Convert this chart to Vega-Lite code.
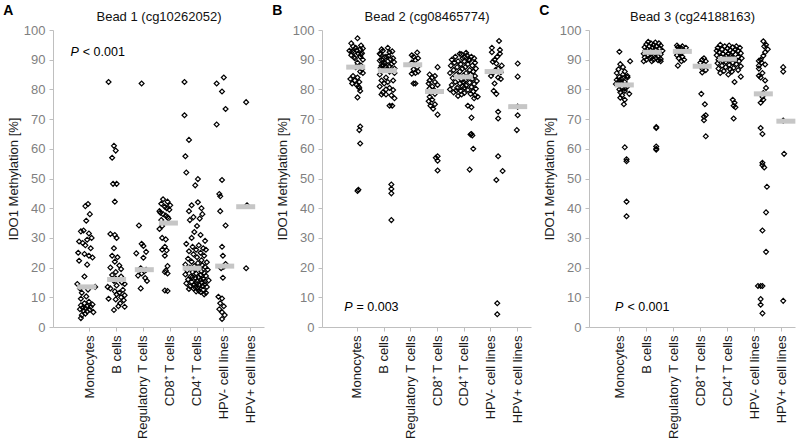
{
"$schema":"https://vega.github.io/schema/vega-lite/v6.json",
"padding":{"left":3,"top":4,"right":0,"bottom":0},
"config":{"font":"Liberation Sans","view":{"stroke":null},
"axisY":{"values":[0,10,20,30,40,50,60,70,80,90,100],"grid":false,"labelColor":"#7f7f7f","labelFontSize":13,"tickSize":4,"tickColor":"#bfbfbf","domainColor":"#bfbfbf","labelPadding":4,"titleFontSize":13,"titleFontWeight":"normal","titleColor":"#1a1a1a","titlePadding":3},
"axisX":{"grid":false}},
"spacing":8,
"datasets":{
"med":[
{"p":1,"c":1,"v":13.5,"j":-0.35},{"p":1,"c":2,"v":16,"j":0},{"p":1,"c":3,"v":19.3,"j":0.1},{"p":1,"c":4,"v":35,"j":-0.2},{"p":1,"c":5,"v":19.8,"j":-0.55},{"p":1,"c":6,"v":20.5,"j":0.1},{"p":1,"c":7,"v":40.5,"j":-0.55},
{"p":2,"c":1,"v":87.5,"j":-0.2},{"p":2,"c":2,"v":86.3,"j":0.35},{"p":2,"c":3,"v":88.3,"j":0.2},{"p":2,"c":4,"v":79.3,"j":-0.35},{"p":2,"c":5,"v":84.2,"j":-0.1},{"p":2,"c":6,"v":86,"j":0.35},{"p":2,"c":7,"v":74.2,"j":0},
{"p":3,"c":1,"v":81.5,"j":0.55},{"p":3,"c":2,"v":92.5,"j":0.65},{"p":3,"c":3,"v":92.8,"j":1.0},{"p":3,"c":4,"v":87.8,"j":0.2},{"p":3,"c":5,"v":90.2,"j":0},{"p":3,"c":6,"v":78.5,"j":1.0},{"p":3,"c":7,"v":69.3,"j":0.5}],
"ann":[
{"p":1,"t1":"P","t2":"< 0.001","v":92.5,"j":-1.23},
{"p":2,"t1":"P","t2":"= 0.003","v":6.7,"j":-0.56},
{"p":3,"t1":"P","t2":"< 0.001","v":6.7,"j":0.45}],
"pts":[
{"p":1,"c":1,"v":41.4,"j":-0.2},{"p":1,"c":1,"v":40.7,"j":-0.5},{"p":1,"c":1,"v":38,"j":0},{"p":1,"c":1,"v":35.8,"j":-0.4},{"p":1,"c":1,"v":32.5,"j":-0.7},{"p":1,"c":1,"v":32.2,"j":-1},{"p":1,"c":1,"v":31.5,"j":-0.1},{"p":1,"c":1,"v":30,"j":0.2},{"p":1,"c":1,"v":29.4,"j":-0.3},{"p":1,"c":1,"v":28.8,"j":-1.2},{"p":1,"c":1,"v":28.3,"j":-0.8},{"p":1,"c":1,"v":27.5,"j":-0.5},{"p":1,"c":1,"v":26.5,"j":0.1},{"p":1,"c":1,"v":25,"j":-1.3},{"p":1,"c":1,"v":24.6,"j":-0.6},{"p":1,"c":1,"v":24,"j":-0.1},{"p":1,"c":1,"v":23.4,"j":0.3},{"p":1,"c":1,"v":22.3,"j":-1.2},{"p":1,"c":1,"v":21,"j":-0.3},{"p":1,"c":1,"v":17,"j":-0.6},{"p":1,"c":1,"v":14.5,"j":-1.4},{"p":1,"c":1,"v":13.5,"j":0.6},{"p":1,"c":1,"v":13,"j":-1.1},{"p":1,"c":1,"v":12.6,"j":-0.2},{"p":1,"c":1,"v":11.5,"j":-0.9},{"p":1,"c":1,"v":10.3,"j":-0.4},{"p":1,"c":1,"v":9.5,"j":-1},{"p":1,"c":1,"v":8.5,"j":-0.1},{"p":1,"c":1,"v":8,"j":-0.6},{"p":1,"c":1,"v":7.6,"j":0.3},{"p":1,"c":1,"v":7.3,"j":-1},{"p":1,"c":1,"v":7,"j":-0.3},{"p":1,"c":1,"v":6.8,"j":0.1},{"p":1,"c":1,"v":6.5,"j":-0.8},{"p":1,"c":1,"v":6.3,"j":-0.5},{"p":1,"c":1,"v":6,"j":-1.1},{"p":1,"c":1,"v":5.8,"j":0},{"p":1,"c":1,"v":5.5,"j":-0.7},{"p":1,"c":1,"v":5.2,"j":-0.3},{"p":1,"c":1,"v":5,"j":0.4},{"p":1,"c":1,"v":4.5,"j":-0.5},{"p":1,"c":1,"v":4,"j":-0.9},{"p":1,"c":1,"v":3,"j":-1},
{"p":1,"c":2,"v":82.5,"j":-0.9},{"p":1,"c":2,"v":61,"j":-0.3},{"p":1,"c":2,"v":59.4,"j":-0.1},{"p":1,"c":2,"v":57,"j":-0.5},{"p":1,"c":2,"v":48.2,"j":-0.4},{"p":1,"c":2,"v":48.2,"j":0},{"p":1,"c":2,"v":42.2,"j":-0.2},{"p":1,"c":2,"v":31.3,"j":-0.7},{"p":1,"c":2,"v":31,"j":-0.2},{"p":1,"c":2,"v":30,"j":0},{"p":1,"c":2,"v":26.5,"j":-0.3},{"p":1,"c":2,"v":24,"j":-0.5},{"p":1,"c":2,"v":23.5,"j":0.1},{"p":1,"c":2,"v":22,"j":-0.2},{"p":1,"c":2,"v":20.7,"j":0.3},{"p":1,"c":2,"v":20,"j":-0.7},{"p":1,"c":2,"v":19.5,"j":0.5},{"p":1,"c":2,"v":18.5,"j":-0.1},{"p":1,"c":2,"v":17.5,"j":-0.5},{"p":1,"c":2,"v":17,"j":0.5},{"p":1,"c":2,"v":16.3,"j":-0.1},{"p":1,"c":2,"v":15.5,"j":-0.3},{"p":1,"c":2,"v":15,"j":0.6},{"p":1,"c":2,"v":14.5,"j":0.9},{"p":1,"c":2,"v":14,"j":0},{"p":1,"c":2,"v":13.5,"j":-1},{"p":1,"c":2,"v":13,"j":-0.7},{"p":1,"c":2,"v":12.5,"j":0.7},{"p":1,"c":2,"v":12,"j":-0.2},{"p":1,"c":2,"v":11.5,"j":0.3},{"p":1,"c":2,"v":11,"j":0},{"p":1,"c":2,"v":10.7,"j":0.9},{"p":1,"c":2,"v":10,"j":0.5},{"p":1,"c":2,"v":9.5,"j":-0.9},{"p":1,"c":2,"v":9.3,"j":-0.1},{"p":1,"c":2,"v":9,"j":0.8},{"p":1,"c":2,"v":8,"j":0.4},{"p":1,"c":2,"v":7,"j":0.2},{"p":1,"c":2,"v":6.8,"j":0.9},{"p":1,"c":2,"v":5.7,"j":-0.3},
{"p":1,"c":3,"v":82,"j":-0.2},{"p":1,"c":3,"v":34.2,"j":-0.5},{"p":1,"c":3,"v":28,"j":-0.2},{"p":1,"c":3,"v":27.3,"j":0},{"p":1,"c":3,"v":25.3,"j":0.3},{"p":1,"c":3,"v":24.8,"j":-0.8},{"p":1,"c":3,"v":23.3,"j":0},{"p":1,"c":3,"v":19.8,"j":-0.3},{"p":1,"c":3,"v":19.3,"j":0.3},{"p":1,"c":3,"v":18.8,"j":0.1},{"p":1,"c":3,"v":18,"j":-0.2},{"p":1,"c":3,"v":17.3,"j":-0.6},{"p":1,"c":3,"v":16.5,"j":0.2},{"p":1,"c":3,"v":15.5,"j":0.4},{"p":1,"c":3,"v":13,"j":-0.3},
{"p":1,"c":4,"v":43,"j":-0.8},{"p":1,"c":4,"v":42.2,"j":-0.3},{"p":1,"c":4,"v":41.5,"j":-1},{"p":1,"c":4,"v":41,"j":0},{"p":1,"c":4,"v":40.5,"j":-0.6},{"p":1,"c":4,"v":40,"j":-0.4},{"p":1,"c":4,"v":39.5,"j":-0.1},{"p":1,"c":4,"v":39,"j":-1.2},{"p":1,"c":4,"v":38.5,"j":-1.1},{"p":1,"c":4,"v":38,"j":-0.8},{"p":1,"c":4,"v":37.5,"j":-0.5},{"p":1,"c":4,"v":37,"j":-0.3},{"p":1,"c":4,"v":36.5,"j":-0.2},{"p":1,"c":4,"v":36,"j":-1},{"p":1,"c":4,"v":34,"j":-0.9},{"p":1,"c":4,"v":33,"j":-1.2},{"p":1,"c":4,"v":30,"j":-0.9},{"p":1,"c":4,"v":29.5,"j":-0.5},{"p":1,"c":4,"v":27,"j":-0.6},{"p":1,"c":4,"v":26,"j":-0.9},{"p":1,"c":4,"v":25.8,"j":-0.4},{"p":1,"c":4,"v":24,"j":-0.6},{"p":1,"c":4,"v":20.5,"j":-0.3},{"p":1,"c":4,"v":19,"j":-0.5},{"p":1,"c":4,"v":18.5,"j":-0.6},{"p":1,"c":4,"v":18,"j":-0.3},{"p":1,"c":4,"v":12.3,"j":-0.6},{"p":1,"c":4,"v":12.1,"j":-0.3},
{"p":1,"c":5,"v":82.5,"j":-1.4},{"p":1,"c":5,"v":71.3,"j":-1.4},{"p":1,"c":5,"v":63,"j":-0.9},{"p":1,"c":5,"v":57.5,"j":-1.3},{"p":1,"c":5,"v":52,"j":-1.2},{"p":1,"c":5,"v":49.8,"j":0.1},{"p":1,"c":5,"v":47.7,"j":-0.2},
{"p":1,"c":5,"v":42,"j":0.1},{"p":1,"c":5,"v":41,"j":-0.6},{"p":1,"c":5,"v":40,"j":0.5},{"p":1,"c":5,"v":39,"j":-0.9},{"p":1,"c":5,"v":38,"j":0.6},{"p":1,"c":5,"v":37,"j":-0.4},{"p":1,"c":5,"v":36.5,"j":0.3},{"p":1,"c":5,"v":36,"j":-0.8},{"p":1,"c":5,"v":34,"j":0},{"p":1,"c":5,"v":32,"j":-0.3},
{"p":1,"c":5,"v":31,"j":0.4},{"p":1,"c":5,"v":30,"j":-0.6},{"p":1,"c":5,"v":29,"j":0.9},{"p":1,"c":5,"v":28,"j":-1.2},{"p":1,"c":5,"v":27.5,"j":0.2},{"p":1,"c":5,"v":27,"j":-0.5},{"p":1,"c":5,"v":26.5,"j":0.7},{"p":1,"c":5,"v":26,"j":-0.1},{"p":1,"c":5,"v":26,"j":1},{"p":1,"c":5,"v":25.5,"j":-0.9},
{"p":1,"c":5,"v":25,"j":0.4},{"p":1,"c":5,"v":24.5,"j":-0.4},{"p":1,"c":5,"v":24,"j":0.8},{"p":1,"c":5,"v":23.5,"j":0},{"p":1,"c":5,"v":23,"j":-1},{"p":1,"c":5,"v":22.5,"j":0.5},{"p":1,"c":5,"v":22,"j":-0.6},{"p":1,"c":5,"v":21.8,"j":1.1},{"p":1,"c":5,"v":21.5,"j":0.1},{"p":1,"c":5,"v":21,"j":-1.3},
{"p":1,"c":5,"v":20.8,"j":0.6},{"p":1,"c":5,"v":20.5,"j":-0.3},{"p":1,"c":5,"v":20.2,"j":0.9},{"p":1,"c":5,"v":20,"j":-0.8},{"p":1,"c":5,"v":19.8,"j":0.3},{"p":1,"c":5,"v":19.5,"j":-0.2},{"p":1,"c":5,"v":19.3,"j":1.2},{"p":1,"c":5,"v":19,"j":-1.1},{"p":1,"c":5,"v":18.7,"j":0.5},{"p":1,"c":5,"v":18.5,"j":-0.5},
{"p":1,"c":5,"v":18.2,"j":0.8},{"p":1,"c":5,"v":18,"j":-0.1},{"p":1,"c":5,"v":17.7,"j":-1.3},{"p":1,"c":5,"v":17.5,"j":0.4},{"p":1,"c":5,"v":17.2,"j":1},{"p":1,"c":5,"v":17,"j":-0.7},{"p":1,"c":5,"v":16.8,"j":-0.5},{"p":1,"c":5,"v":16.7,"j":0.2},{"p":1,"c":5,"v":16.5,"j":-0.2},{"p":1,"c":5,"v":16.2,"j":0.7},{"p":1,"c":5,"v":16,"j":-1},{"p":1,"c":5,"v":15.9,"j":0.4},
{"p":1,"c":5,"v":15.7,"j":1.3},{"p":1,"c":5,"v":15.5,"j":0},{"p":1,"c":5,"v":15.3,"j":0.9},{"p":1,"c":5,"v":15.2,"j":-0.6},{"p":1,"c":5,"v":15,"j":0.5},{"p":1,"c":5,"v":14.8,"j":-0.1},{"p":1,"c":5,"v":14.7,"j":-1.2},{"p":1,"c":5,"v":14.5,"j":0.9},{"p":1,"c":5,"v":14.2,"j":-0.3},{"p":1,"c":5,"v":14,"j":0.3},{"p":1,"c":5,"v":13.8,"j":0.6},{"p":1,"c":5,"v":13.7,"j":-0.8},{"p":1,"c":5,"v":13.5,"j":1.1},
{"p":1,"c":5,"v":13.3,"j":-0.2},{"p":1,"c":5,"v":13.2,"j":0.1},{"p":1,"c":5,"v":13,"j":-0.4},{"p":1,"c":5,"v":12.8,"j":-0.9},{"p":1,"c":5,"v":12.5,"j":0.7},{"p":1,"c":5,"v":12.2,"j":0.2},{"p":1,"c":5,"v":12,"j":-0.1},{"p":1,"c":5,"v":11.8,"j":0.4},{"p":1,"c":5,"v":11.5,"j":1},{"p":1,"c":5,"v":11,"j":0.8},
{"p":1,"c":6,"v":84,"j":0},{"p":1,"c":6,"v":82,"j":-0.8},{"p":1,"c":6,"v":79.3,"j":-0.2},{"p":1,"c":6,"v":73.4,"j":0.2},{"p":1,"c":6,"v":68.2,"j":-0.8},{"p":1,"c":6,"v":49.5,"j":-0.2},{"p":1,"c":6,"v":44.8,"j":-0.5},{"p":1,"c":6,"v":44,"j":-0.4},{"p":1,"c":6,"v":39,"j":-0.4},{"p":1,"c":6,"v":34.2,"j":0.2},{"p":1,"c":6,"v":27,"j":-0.2},{"p":1,"c":6,"v":24,"j":-0.1},{"p":1,"c":6,"v":21.2,"j":0.2},{"p":1,"c":6,"v":20.3,"j":0},{"p":1,"c":6,"v":19.8,"j":-0.3},{"p":1,"c":6,"v":16.6,"j":-0.1},{"p":1,"c":6,"v":10.2,"j":-0.6},{"p":1,"c":6,"v":9.6,"j":-0.2},{"p":1,"c":6,"v":8,"j":-0.4},{"p":1,"c":6,"v":7,"j":0},{"p":1,"c":6,"v":6,"j":-0.5},{"p":1,"c":6,"v":5,"j":-0.2},{"p":1,"c":6,"v":4,"j":0.1},{"p":1,"c":6,"v":2.7,"j":-0.2},
{"p":1,"c":7,"v":75.7,"j":-0.5},{"p":1,"c":7,"v":41,"j":-0.4},{"p":1,"c":7,"v":19.8,"j":-0.5},
{"p":2,"c":1,"v":97.2,"j":0},{"p":2,"c":1,"v":95.5,"j":-0.7},{"p":2,"c":1,"v":94.8,"j":0.4},{"p":2,"c":1,"v":94.5,"j":-0.5},{"p":2,"c":1,"v":94,"j":-0.2},{"p":2,"c":1,"v":93.8,"j":0.6},{"p":2,"c":1,"v":93.5,"j":0.3},{"p":2,"c":1,"v":93.2,"j":-0.1},{"p":2,"c":1,"v":93,"j":-0.9},{"p":2,"c":1,"v":92.8,"j":-0.6},{"p":2,"c":1,"v":92.5,"j":-0.4},{"p":2,"c":1,"v":92.2,"j":0.5},{"p":2,"c":1,"v":92,"j":0.1},{"p":2,"c":1,"v":91.8,"j":0.4},{"p":2,"c":1,"v":91.5,"j":-0.7},{"p":2,"c":1,"v":91,"j":0.3},{"p":2,"c":1,"v":90.8,"j":-0.4},{"p":2,"c":1,"v":90.5,"j":-0.3},{"p":2,"c":1,"v":90,"j":0.6},{"p":2,"c":1,"v":89,"j":0},{"p":2,"c":1,"v":88,"j":0.4},{"p":2,"c":1,"v":87.5,"j":-0.2},{"p":2,"c":1,"v":86.8,"j":0.5},{"p":2,"c":1,"v":86,"j":0.3},{"p":2,"c":1,"v":85.5,"j":0.6},{"p":2,"c":1,"v":84.5,"j":-0.5},{"p":2,"c":1,"v":84,"j":0},{"p":2,"c":1,"v":83.5,"j":-0.8},{"p":2,"c":1,"v":83,"j":-0.3},{"p":2,"c":1,"v":82.5,"j":0.2},{"p":2,"c":1,"v":82,"j":-0.6},{"p":2,"c":1,"v":81.5,"j":-0.1},{"p":2,"c":1,"v":81,"j":0.1},{"p":2,"c":1,"v":80.5,"j":0.2},{"p":2,"c":1,"v":79.5,"j":0.3},{"p":2,"c":1,"v":77.3,"j":0},{"p":2,"c":1,"v":67.5,"j":0.3},{"p":2,"c":1,"v":66.3,"j":0.2},{"p":2,"c":1,"v":61.8,"j":0.3},{"p":2,"c":1,"v":46.2,"j":0.1},{"p":2,"c":1,"v":45.8,"j":0},
{"p":2,"c":2,"v":94,"j":0.4},{"p":2,"c":2,"v":93.5,"j":-0.3},{"p":2,"c":2,"v":93,"j":-0.15},{"p":2,"c":2,"v":92.8,"j":0.9},{"p":2,"c":2,"v":92.5,"j":0.6},{"p":2,"c":2,"v":92,"j":-0.5},{"p":2,"c":2,"v":91.8,"j":-0.4},{"p":2,"c":2,"v":91.3,"j":0.5},{"p":2,"c":2,"v":91,"j":0.2},{"p":2,"c":2,"v":90.8,"j":0},{"p":2,"c":2,"v":90.5,"j":1},{"p":2,"c":2,"v":90.2,"j":0.7},{"p":2,"c":2,"v":90,"j":-0.3},{"p":2,"c":2,"v":89.7,"j":-0.5},{"p":2,"c":2,"v":89.5,"j":0.4},{"p":2,"c":2,"v":89.2,"j":1.1},{"p":2,"c":2,"v":89,"j":0},{"p":2,"c":2,"v":88.7,"j":0.1},{"p":2,"c":2,"v":88.5,"j":0.8},{"p":2,"c":2,"v":88.2,"j":-0.1},{"p":2,"c":2,"v":88,"j":-0.3},{"p":2,"c":2,"v":87.8,"j":0.6},{"p":2,"c":2,"v":87.5,"j":0.2},{"p":2,"c":2,"v":87.2,"j":-0.4},{"p":2,"c":2,"v":87,"j":1.15},{"p":2,"c":2,"v":86.8,"j":0.3},{"p":2,"c":2,"v":86.5,"j":-0.15},{"p":2,"c":2,"v":86,"j":0.6},{"p":2,"c":2,"v":85.5,"j":1.15},{"p":2,"c":2,"v":85,"j":-0.5},{"p":2,"c":2,"v":84,"j":0.2},{"p":2,"c":2,"v":83,"j":-0.3},{"p":2,"c":2,"v":83,"j":1},{"p":2,"c":2,"v":82.5,"j":0.4},{"p":2,"c":2,"v":82,"j":0},{"p":2,"c":2,"v":81,"j":-0.5},{"p":2,"c":2,"v":80.5,"j":0.6},{"p":2,"c":2,"v":80,"j":0.2},{"p":2,"c":2,"v":79.8,"j":1},{"p":2,"c":2,"v":79,"j":-0.15},{"p":2,"c":2,"v":78.3,"j":-0.3},{"p":2,"c":2,"v":78.3,"j":0.2},{"p":2,"c":2,"v":78,"j":0.8},{"p":2,"c":2,"v":77,"j":1.15},{"p":2,"c":2,"v":74.5,"j":0.6},{"p":2,"c":2,"v":74.5,"j":0.9},{"p":2,"c":2,"v":48,"j":0.8},{"p":2,"c":2,"v":46.5,"j":0.8},{"p":2,"c":2,"v":45,"j":0.8},{"p":2,"c":2,"v":36,"j":0.8},
{"p":2,"c":3,"v":92.4,"j":0.7},{"p":2,"c":3,"v":91.5,"j":0.1},{"p":2,"c":3,"v":91,"j":0.3},{"p":2,"c":3,"v":90.5,"j":0.8},{"p":2,"c":3,"v":89.8,"j":0.5},{"p":2,"c":3,"v":89,"j":0.1},{"p":2,"c":3,"v":88.5,"j":0.4},{"p":2,"c":3,"v":87.5,"j":0.7},{"p":2,"c":3,"v":86.8,"j":0.3},{"p":2,"c":3,"v":86,"j":0.8},{"p":2,"c":3,"v":85.5,"j":0.5},{"p":2,"c":3,"v":85.3,"j":0.1},{"p":2,"c":3,"v":82,"j":0.3},{"p":2,"c":3,"v":82,"j":0.5},
{"p":2,"c":4,"v":87.5,"j":0},{"p":2,"c":4,"v":85,"j":-0.9},{"p":2,"c":4,"v":84.5,"j":-0.3},{"p":2,"c":4,"v":84,"j":-0.6},{"p":2,"c":4,"v":83,"j":-0.9},{"p":2,"c":4,"v":82.5,"j":-0.3},{"p":2,"c":4,"v":82,"j":-1},{"p":2,"c":4,"v":81.5,"j":0},{"p":2,"c":4,"v":81,"j":-0.6},{"p":2,"c":4,"v":80.3,"j":-0.9},{"p":2,"c":4,"v":79.8,"j":-0.4},{"p":2,"c":4,"v":79.3,"j":-0.7},{"p":2,"c":4,"v":78.5,"j":-0.3},{"p":2,"c":4,"v":77.5,"j":-0.9},{"p":2,"c":4,"v":76.5,"j":-0.6},{"p":2,"c":4,"v":76,"j":-1},{"p":2,"c":4,"v":75,"j":-0.3},{"p":2,"c":4,"v":74.5,"j":-0.8},{"p":2,"c":4,"v":73.5,"j":-0.5},{"p":2,"c":4,"v":71.5,"j":0},{"p":2,"c":4,"v":57.5,"j":0},{"p":2,"c":4,"v":57,"j":-0.2},{"p":2,"c":4,"v":56,"j":0},{"p":2,"c":4,"v":52.7,"j":0},
{"p":2,"c":5,"v":92.3,"j":0.2},{"p":2,"c":5,"v":92,"j":-0.5},{"p":2,"c":5,"v":91.8,"j":-0.3},{"p":2,"c":5,"v":91.5,"j":0.3},{"p":2,"c":5,"v":91,"j":-1},{"p":2,"c":5,"v":91,"j":0.8},{"p":2,"c":5,"v":90.8,"j":0},{"p":2,"c":5,"v":90.5,"j":-0.2},{"p":2,"c":5,"v":90.5,"j":1.1},{"p":2,"c":5,"v":90,"j":-1.4},{"p":2,"c":5,"v":90,"j":0.5},{"p":2,"c":5,"v":89.8,"j":0.6},{"p":2,"c":5,"v":89.5,"j":-0.7},{"p":2,"c":5,"v":89.5,"j":0},{"p":2,"c":5,"v":89,"j":1.2},{"p":2,"c":5,"v":89,"j":-1.1},{"p":2,"c":5,"v":88.5,"j":0.4},{"p":2,"c":5,"v":88.5,"j":-0.4},{"p":2,"c":5,"v":88,"j":0.9},{"p":2,"c":5,"v":88,"j":-1.5},
{"p":2,"c":5,"v":87.5,"j":0.1},{"p":2,"c":5,"v":87.5,"j":-0.8},{"p":2,"c":5,"v":87,"j":1.3},{"p":2,"c":5,"v":87,"j":-0.2},{"p":2,"c":5,"v":86.5,"j":0.6},{"p":2,"c":5,"v":86.5,"j":-1.2},{"p":2,"c":5,"v":86,"j":-0.5},{"p":2,"c":5,"v":86,"j":1},{"p":2,"c":5,"v":85.5,"j":0.2},{"p":2,"c":5,"v":85.5,"j":-1.6},{"p":2,"c":5,"v":85,"j":-0.9},{"p":2,"c":5,"v":85,"j":0.7},
{"p":2,"c":5,"v":84.7,"j":-0.1},{"p":2,"c":5,"v":84.5,"j":1.2},{"p":2,"c":5,"v":84.3,"j":-0.6},{"p":2,"c":5,"v":84,"j":0.4},{"p":2,"c":5,"v":83.8,"j":-1.3},{"p":2,"c":5,"v":83.5,"j":0.9},{"p":2,"c":5,"v":83.3,"j":-0.3},{"p":2,"c":5,"v":83,"j":0.1},{"p":2,"c":5,"v":82.8,"j":1.4},{"p":2,"c":5,"v":82.6,"j":-0.1},{"p":2,"c":5,"v":82.5,"j":-1},{"p":2,"c":5,"v":82.3,"j":0.6},{"p":2,"c":5,"v":82,"j":-0.5},
{"p":2,"c":5,"v":81.8,"j":1.1},{"p":2,"c":5,"v":81.5,"j":-1.4},{"p":2,"c":5,"v":81.3,"j":0.2},{"p":2,"c":5,"v":81,"j":-0.2},{"p":2,"c":5,"v":80.8,"j":0.8},{"p":2,"c":5,"v":80.6,"j":0},{"p":2,"c":5,"v":80.5,"j":-0.8},{"p":2,"c":5,"v":80.2,"j":1.3},{"p":2,"c":5,"v":80,"j":-1.6},{"p":2,"c":5,"v":79.8,"j":0.4},{"p":2,"c":5,"v":79.6,"j":-0.9},{"p":2,"c":5,"v":79.5,"j":-0.4},{"p":2,"c":5,"v":79.3,"j":1},
{"p":2,"c":5,"v":79,"j":-1.2},{"p":2,"c":5,"v":78.8,"j":0},{"p":2,"c":5,"v":78.5,"j":0.7},{"p":2,"c":5,"v":78.3,"j":-0.3},{"p":2,"c":5,"v":78,"j":1.2},{"p":2,"c":5,"v":77.8,"j":-0.7},{"p":2,"c":5,"v":77.5,"j":1.5},{"p":2,"c":5,"v":77,"j":1.1},{"p":2,"c":5,"v":74.5,"j":0.4},{"p":2,"c":5,"v":74,"j":0.8},{"p":2,"c":5,"v":70.5,"j":0.8},{"p":2,"c":5,"v":65,"j":0.8},{"p":2,"c":5,"v":64.8,"j":0.7},{"p":2,"c":5,"v":64.5,"j":0.9},{"p":2,"c":5,"v":60,"j":1},{"p":2,"c":5,"v":53,"j":0.6},
{"p":2,"c":6,"v":96.3,"j":0.9},{"p":2,"c":6,"v":94,"j":0.1},{"p":2,"c":6,"v":93.3,"j":1},{"p":2,"c":6,"v":92.5,"j":0.1},{"p":2,"c":6,"v":92,"j":1},{"p":2,"c":6,"v":91,"j":0.7},{"p":2,"c":6,"v":90,"j":0.4},{"p":2,"c":6,"v":89.3,"j":0.2},{"p":2,"c":6,"v":88.7,"j":0.6},{"p":2,"c":6,"v":88,"j":1.2},{"p":2,"c":6,"v":87,"j":0.8},{"p":2,"c":6,"v":86.5,"j":0.5},{"p":2,"c":6,"v":85.8,"j":1.1},{"p":2,"c":6,"v":85.5,"j":0.2},{"p":2,"c":6,"v":84.5,"j":0},{"p":2,"c":6,"v":84,"j":0.8},{"p":2,"c":6,"v":83.5,"j":1.1},{"p":2,"c":6,"v":82,"j":0.4},{"p":2,"c":6,"v":79.5,"j":0.3},{"p":2,"c":6,"v":78.5,"j":0.6},{"p":2,"c":6,"v":72.5,"j":0.8},{"p":2,"c":6,"v":70.2,"j":0.8},{"p":2,"c":6,"v":57.5,"j":0.8},{"p":2,"c":6,"v":52.5,"j":1.3},{"p":2,"c":6,"v":49.5,"j":0.6},{"p":2,"c":6,"v":8,"j":0.7},{"p":2,"c":6,"v":4.3,"j":0.7},
{"p":2,"c":7,"v":88.7,"j":0},{"p":2,"c":7,"v":84.3,"j":0},{"p":2,"c":7,"v":74.2,"j":0},{"p":2,"c":7,"v":71.3,"j":0},{"p":2,"c":7,"v":66.3,"j":-0.1},
{"p":3,"c":1,"v":92.7,"j":0},{"p":3,"c":1,"v":89.5,"j":1.2},{"p":3,"c":1,"v":88.5,"j":0.1},{"p":3,"c":1,"v":87.5,"j":0.4},{"p":3,"c":1,"v":86.8,"j":-0.1},{"p":3,"c":1,"v":86,"j":0.6},{"p":3,"c":1,"v":85.5,"j":-0.3},{"p":3,"c":1,"v":85,"j":0.4},{"p":3,"c":1,"v":84.5,"j":0.9},{"p":3,"c":1,"v":84.2,"j":0},{"p":3,"c":1,"v":84,"j":0.9},{"p":3,"c":1,"v":83.8,"j":0.4},{"p":3,"c":1,"v":83.5,"j":0.2},{"p":3,"c":1,"v":83.2,"j":-0.3},{"p":3,"c":1,"v":83,"j":0},{"p":3,"c":1,"v":82.5,"j":0.6},{"p":3,"c":1,"v":82.2,"j":0.1},{"p":3,"c":1,"v":82,"j":0.3},{"p":3,"c":1,"v":81.8,"j":-0.4},{"p":3,"c":1,"v":81.5,"j":0.8},{"p":3,"c":1,"v":81,"j":0.9},{"p":3,"c":1,"v":80.5,"j":0.3},{"p":3,"c":1,"v":80.2,"j":0.6},{"p":3,"c":1,"v":80,"j":0},{"p":3,"c":1,"v":79.5,"j":0.6},{"p":3,"c":1,"v":79,"j":0.1},{"p":3,"c":1,"v":78.5,"j":1.1},{"p":3,"c":1,"v":78,"j":0.3},{"p":3,"c":1,"v":77.2,"j":0.1},{"p":3,"c":1,"v":76.5,"j":0.6},{"p":3,"c":1,"v":75,"j":0.5},{"p":3,"c":1,"v":60.5,"j":0.6},{"p":3,"c":1,"v":56.5,"j":0.8},{"p":3,"c":1,"v":55.8,"j":0.8},{"p":3,"c":1,"v":42.2,"j":0.8},{"p":3,"c":1,"v":37.3,"j":0.8},
{"p":3,"c":2,"v":96,"j":0.2},{"p":3,"c":2,"v":95.8,"j":1},{"p":3,"c":2,"v":95.5,"j":0.5},{"p":3,"c":2,"v":95.5,"j":1.4},{"p":3,"c":2,"v":95.2,"j":0},{"p":3,"c":2,"v":95,"j":0.8},{"p":3,"c":2,"v":94.8,"j":1.6},{"p":3,"c":2,"v":94.5,"j":0.3},{"p":3,"c":2,"v":94.5,"j":1.1},{"p":3,"c":2,"v":94.2,"j":-0.2},{"p":3,"c":2,"v":94,"j":0.7},{"p":3,"c":2,"v":93.8,"j":1.5},{"p":3,"c":2,"v":93.5,"j":0.1},{"p":3,"c":2,"v":93.5,"j":1},{"p":3,"c":2,"v":93.2,"j":0.5},{"p":3,"c":2,"v":93,"j":1.8},{"p":3,"c":2,"v":93,"j":-0.1},{"p":3,"c":2,"v":92.8,"j":0.8},{"p":3,"c":2,"v":92.5,"j":0.3},{"p":3,"c":2,"v":92.5,"j":1.3},{"p":3,"c":2,"v":92.2,"j":0.6},{"p":3,"c":2,"v":92,"j":-0.3},{"p":3,"c":2,"v":92,"j":1},{"p":3,"c":2,"v":91.8,"j":1.6},{"p":3,"c":2,"v":91.5,"j":0.2},{"p":3,"c":2,"v":91.5,"j":0.9},{"p":3,"c":2,"v":91.2,"j":1.3},{"p":3,"c":2,"v":91,"j":0.5},{"p":3,"c":2,"v":90.8,"j":-0.2},{"p":3,"c":2,"v":90.5,"j":1.1},{"p":3,"c":2,"v":90.5,"j":0.4},{"p":3,"c":2,"v":90.2,"j":1.6},{"p":3,"c":2,"v":90,"j":0},{"p":3,"c":2,"v":90,"j":0.8},{"p":3,"c":2,"v":89.8,"j":1.3},{"p":3,"c":2,"v":89.5,"j":-0.3},{"p":3,"c":2,"v":89.5,"j":0.6},{"p":3,"c":2,"v":89.5,"j":1.6},{"p":3,"c":2,"v":67.3,"j":1.1},{"p":3,"c":2,"v":67,"j":1.1},{"p":3,"c":2,"v":60.8,"j":1.1},{"p":3,"c":2,"v":60,"j":1.1},{"p":3,"c":2,"v":59.7,"j":1.1},
{"p":3,"c":3,"v":94.8,"j":0.4},{"p":3,"c":3,"v":94.5,"j":1},{"p":3,"c":3,"v":94.2,"j":0.5},{"p":3,"c":3,"v":94,"j":1.4},{"p":3,"c":3,"v":93.8,"j":0.9},{"p":3,"c":3,"v":93.5,"j":0.6},{"p":3,"c":3,"v":93,"j":1.2},{"p":3,"c":3,"v":92.5,"j":0.8},{"p":3,"c":3,"v":92,"j":0.8},{"p":3,"c":3,"v":91.5,"j":0.4},{"p":3,"c":3,"v":91,"j":1},{"p":3,"c":3,"v":90.5,"j":0.6},{"p":3,"c":3,"v":90,"j":1.2},{"p":3,"c":3,"v":89.5,"j":0.9},{"p":3,"c":3,"v":88,"j":0.5},
{"p":3,"c":4,"v":90.5,"j":0.4},{"p":3,"c":4,"v":90,"j":0.2},{"p":3,"c":4,"v":89.5,"j":0.6},{"p":3,"c":4,"v":89,"j":0},{"p":3,"c":4,"v":88.5,"j":0.4},{"p":3,"c":4,"v":87.8,"j":0.2},{"p":3,"c":4,"v":87,"j":0.2},{"p":3,"c":4,"v":86.5,"j":0.6},{"p":3,"c":4,"v":85.7,"j":0.2},{"p":3,"c":4,"v":78.5,"j":0.1},{"p":3,"c":4,"v":75,"j":0.5},{"p":3,"c":4,"v":71.3,"j":0.6},{"p":3,"c":4,"v":70.8,"j":0.4},{"p":3,"c":4,"v":69.6,"j":0.4},{"p":3,"c":4,"v":64.2,"j":0.6},
{"p":3,"c":5,"v":95,"j":-0.8},{"p":3,"c":5,"v":94.8,"j":0.2},{"p":3,"c":5,"v":94.5,"j":1},{"p":3,"c":5,"v":94.5,"j":-0.3},{"p":3,"c":5,"v":94.2,"j":0.6},{"p":3,"c":5,"v":94,"j":-1.1},{"p":3,"c":5,"v":94,"j":1.4},{"p":3,"c":5,"v":93.8,"j":0},{"p":3,"c":5,"v":93.5,"j":-0.6},{"p":3,"c":5,"v":93.5,"j":0.9},{"p":3,"c":5,"v":93.2,"j":0.3},{"p":3,"c":5,"v":93,"j":-1.2},{"p":3,"c":5,"v":93,"j":1.2},{"p":3,"c":5,"v":92.8,"j":-0.2},{"p":3,"c":5,"v":92.5,"j":0.6},{"p":3,"c":5,"v":92.5,"j":-0.9},{"p":3,"c":5,"v":92.2,"j":1.5},{"p":3,"c":5,"v":92,"j":0.1},{"p":3,"c":5,"v":92,"j":-0.5},{"p":3,"c":5,"v":91.8,"j":0.9},
{"p":3,"c":5,"v":91.5,"j":-1.2},{"p":3,"c":5,"v":91.5,"j":0.4},{"p":3,"c":5,"v":91.2,"j":-0.1},{"p":3,"c":5,"v":91,"j":1.2},{"p":3,"c":5,"v":91,"j":-0.7},{"p":3,"c":5,"v":90.8,"j":0.5},{"p":3,"c":5,"v":90.5,"j":-0.3},{"p":3,"c":5,"v":90.5,"j":1.6},{"p":3,"c":5,"v":90.2,"j":0},{"p":3,"c":5,"v":90,"j":-1},{"p":3,"c":5,"v":90,"j":0.8},{"p":3,"c":5,"v":89.8,"j":0.3},{"p":3,"c":5,"v":89.5,"j":-0.5},{"p":3,"c":5,"v":89.5,"j":1.3},{"p":3,"c":5,"v":89.2,"j":-0.2},{"p":3,"c":5,"v":89,"j":0.6},{"p":3,"c":5,"v":88.8,"j":-1.1},{"p":3,"c":5,"v":88.5,"j":1},{"p":3,"c":5,"v":88.2,"j":0.2},{"p":3,"c":5,"v":88,"j":-0.6},
{"p":3,"c":5,"v":87.8,"j":1.5},{"p":3,"c":5,"v":87.5,"j":-0.2},{"p":3,"c":5,"v":87.2,"j":0.7},{"p":3,"c":5,"v":87,"j":-1},{"p":3,"c":5,"v":86.8,"j":0.3},{"p":3,"c":5,"v":86.5,"j":1.2},{"p":3,"c":5,"v":86.2,"j":-0.4},{"p":3,"c":5,"v":86,"j":0.5},{"p":3,"c":5,"v":85.5,"j":-0.8},{"p":3,"c":5,"v":85,"j":0.1},{"p":3,"c":5,"v":84.3,"j":1.5},{"p":3,"c":5,"v":82.5,"j":0.8},{"p":3,"c":5,"v":76.5,"j":0.6},{"p":3,"c":5,"v":75.5,"j":0.8},{"p":3,"c":5,"v":74.5,"j":0.7},{"p":3,"c":5,"v":74,"j":0.9},{"p":3,"c":5,"v":70.2,"j":0.7},
{"p":3,"c":6,"v":96.2,"j":1},{"p":3,"c":6,"v":95,"j":1.3},{"p":3,"c":6,"v":94.5,"j":1.1},{"p":3,"c":6,"v":93.5,"j":1.5},{"p":3,"c":6,"v":92.5,"j":1.2},{"p":3,"c":6,"v":91.3,"j":1},{"p":3,"c":6,"v":90,"j":0.7},{"p":3,"c":6,"v":89.6,"j":0.5},{"p":3,"c":6,"v":89,"j":0.8},{"p":3,"c":6,"v":88.4,"j":1.2},{"p":3,"c":6,"v":88,"j":0.5},{"p":3,"c":6,"v":87,"j":0.5},{"p":3,"c":6,"v":85.5,"j":0.9},{"p":3,"c":6,"v":84.6,"j":0.5},{"p":3,"c":6,"v":84,"j":0.7},{"p":3,"c":6,"v":83,"j":1.2},{"p":3,"c":6,"v":80.5,"j":1.3},{"p":3,"c":6,"v":78.8,"j":1},{"p":3,"c":6,"v":77.5,"j":0.9},{"p":3,"c":6,"v":76.5,"j":1},{"p":3,"c":6,"v":75.5,"j":0.7},{"p":3,"c":6,"v":67,"j":0.7},{"p":3,"c":6,"v":65,"j":0.9},{"p":3,"c":6,"v":55.3,"j":0.9},{"p":3,"c":6,"v":54.5,"j":0.9},{"p":3,"c":6,"v":53.7,"j":1.1},{"p":3,"c":6,"v":47.2,"j":1.4},{"p":3,"c":6,"v":38.6,"j":1.3},{"p":3,"c":6,"v":32.5,"j":0.9},{"p":3,"c":6,"v":25.3,"j":1.3},{"p":3,"c":6,"v":13.8,"j":0.4},{"p":3,"c":6,"v":13.8,"j":0.7},{"p":3,"c":6,"v":13.8,"j":0.9},{"p":3,"c":6,"v":9.4,"j":0.7},{"p":3,"c":6,"v":7.5,"j":0.7},{"p":3,"c":6,"v":4.6,"j":0.9},
{"p":3,"c":7,"v":87.5,"j":0.2},{"p":3,"c":7,"v":86,"j":0.2},{"p":3,"c":7,"v":69.5,"j":0.2},{"p":3,"c":7,"v":58.3,"j":0.3},{"p":3,"c":7,"v":8.8,"j":0.2}
]},
"hconcat":[
{"title":{"text":"A","anchor":"start","frame":"bounds","fontSize":14,"fontWeight":"bold","color":"#000","offset":-8,"dx":-4},
"width":211,"height":297,
"encoding":{"y":{"field":"v","type":"quantitative","scale":{"domain":[0,100],"nice":false},"axis":{"title":"IDO1 Methylation [%]"}}},
"layer":[
{"data":{"name":"pts"},"transform":[{"filter":"datum.p==1"}],
"mark":{"type":"point","shape":"diamond","filled":false,"stroke":"#000","strokeWidth":1.2,"size":24,"opacity":1},
"encoding":{"x":{"field":"c","type":"ordinal","scale":{"domain":[1,2,3,4,5,6,7],"paddingInner":0,"paddingOuter":0.437,"align":1},
"axis":{"title":null,"labelAngle":-90,"labelExpr":"['Monocytes','B cells','Regulatory T cells','CD8⁺ T cells','CD4⁺ T cells','HPV- cell lines','HPV+ cell lines'][datum.value-1]","labelFontSize":13,"labelColor":"#1a1a1a","tickSize":4,"tickColor":"#bfbfbf","domainColor":"#bfbfbf","labelPadding":4,"bandPosition":0.5,"labelLimit":200}},
"xOffset":{"field":"j","type":"quantitative","scale":{"domain":[-1.5,1.5],"nice":false,"zero":false}}}},
{"data":{"name":"med"},"transform":[{"filter":"datum.p==1"}],
"mark":{"type":"tick","size":19,"thickness":5,"color":"#c6c6c6","opacity":1},
"encoding":{"x":{"field":"c","type":"ordinal","axis":{"orient":"top","title":"Bead 1 (cg10262052)","labels":false,"ticks":false,"domain":false,"titlePadding":7,"titleFontSize":13,"titleFontWeight":"normal","titleColor":"#111"}},
"xOffset":{"field":"j","type":"quantitative","scale":{"domain":[-1.5,1.5],"nice":false,"zero":false}}}},
{"data":{"name":"ann"},"transform":[{"filter":"datum.p==1"}],
"mark":{"type":"text","align":"right","baseline":"middle","fontStyle":"italic","fontSize":12.5,"color":"#000"},
"encoding":{"x":{"datum":1,"type":"ordinal","axis":null},"xOffset":{"field":"j","type":"quantitative","scale":{"domain":[-1.5,1.5],"nice":false,"zero":false}},"text":{"field":"t1"}}},
{"data":{"name":"ann"},"transform":[{"filter":"datum.p==1"}],
"mark":{"type":"text","align":"left","baseline":"middle","fontSize":12.5,"color":"#000","dx":4},
"encoding":{"x":{"datum":1,"type":"ordinal","axis":null},"xOffset":{"field":"j","type":"quantitative","scale":{"domain":[-1.5,1.5],"nice":false,"zero":false}},"text":{"field":"t2"}}}
],
"resolve":{"axis":{"x":"independent"}}},
{"title":{"text":"B","anchor":"start","frame":"bounds","fontSize":14,"fontWeight":"bold","color":"#000","offset":-8,"dx":-4},
"width":209,"height":297,
"encoding":{"y":{"field":"v","type":"quantitative","scale":{"domain":[0,100],"nice":false},"axis":{"title":"IDO1 Methylation [%]"}}},
"layer":[
{"data":{"name":"pts"},"transform":[{"filter":"datum.p==2"}],
"mark":{"type":"point","shape":"diamond","filled":false,"stroke":"#000","strokeWidth":1.2,"size":24,"opacity":1},
"encoding":{"x":{"field":"c","type":"ordinal","scale":{"domain":[1,2,3,4,5,6,7],"paddingInner":0,"paddingOuter":0.414,"align":1},
"axis":{"title":null,"labelAngle":-90,"labelExpr":"['Monocytes','B cells','Regulatory T cells','CD8⁺ T cells','CD4⁺ T cells','HPV- cell lines','HPV+ cell lines'][datum.value-1]","labelFontSize":13,"labelColor":"#1a1a1a","tickSize":4,"tickColor":"#bfbfbf","domainColor":"#bfbfbf","labelPadding":4,"bandPosition":0.5,"labelLimit":200}},
"xOffset":{"field":"j","type":"quantitative","scale":{"domain":[-1.5,1.5],"nice":false,"zero":false}}}},
{"data":{"name":"med"},"transform":[{"filter":"datum.p==2"}],
"mark":{"type":"tick","size":19,"thickness":5,"color":"#c6c6c6","opacity":1},
"encoding":{"x":{"field":"c","type":"ordinal","axis":{"orient":"top","title":"Bead 2 (cg08465774)","labels":false,"ticks":false,"domain":false,"titlePadding":7,"titleFontSize":13,"titleFontWeight":"normal","titleColor":"#111"}},
"xOffset":{"field":"j","type":"quantitative","scale":{"domain":[-1.5,1.5],"nice":false,"zero":false}}}},
{"data":{"name":"ann"},"transform":[{"filter":"datum.p==2"}],
"mark":{"type":"text","align":"right","baseline":"middle","fontStyle":"italic","fontSize":12.5,"color":"#000"},
"encoding":{"x":{"datum":1,"type":"ordinal","axis":null},"xOffset":{"field":"j","type":"quantitative","scale":{"domain":[-1.5,1.5],"nice":false,"zero":false}},"text":{"field":"t1"}}},
{"data":{"name":"ann"},"transform":[{"filter":"datum.p==2"}],
"mark":{"type":"text","align":"left","baseline":"middle","fontSize":12.5,"color":"#000","dx":4},
"encoding":{"x":{"datum":1,"type":"ordinal","axis":null},"xOffset":{"field":"j","type":"quantitative","scale":{"domain":[-1.5,1.5],"nice":false,"zero":false}},"text":{"field":"t2"}}}
],
"resolve":{"axis":{"x":"independent"}}},
{"title":{"text":"C","anchor":"start","frame":"bounds","fontSize":14,"fontWeight":"bold","color":"#000","offset":-8,"dx":-4},
"width":206,"height":297,
"encoding":{"y":{"field":"v","type":"quantitative","scale":{"domain":[0,100],"nice":false},"axis":{"title":"IDO1 Methylation [%]"}}},
"layer":[
{"data":{"name":"pts"},"transform":[{"filter":"datum.p==3"}],
"mark":{"type":"point","shape":"diamond","filled":false,"stroke":"#000","strokeWidth":1.2,"size":24,"opacity":1},
"encoding":{"x":{"field":"c","type":"ordinal","scale":{"domain":[1,2,3,4,5,6,7],"paddingInner":0,"paddingOuter":0.315,"align":1},
"axis":{"title":null,"labelAngle":-90,"labelExpr":"['Monocytes','B cells','Regulatory T cells','CD8⁺ T cells','CD4⁺ T cells','HPV- cell lines','HPV+ cell lines'][datum.value-1]","labelFontSize":13,"labelColor":"#1a1a1a","tickSize":4,"tickColor":"#bfbfbf","domainColor":"#bfbfbf","labelPadding":4,"bandPosition":0.5,"labelLimit":200}},
"xOffset":{"field":"j","type":"quantitative","scale":{"domain":[-1.5,1.5],"nice":false,"zero":false}}}},
{"data":{"name":"med"},"transform":[{"filter":"datum.p==3"}],
"mark":{"type":"tick","size":19,"thickness":5,"color":"#c6c6c6","opacity":1},
"encoding":{"x":{"field":"c","type":"ordinal","axis":{"orient":"top","title":"Bead 3 (cg24188163)","labels":false,"ticks":false,"domain":false,"titlePadding":7,"titleFontSize":13,"titleFontWeight":"normal","titleColor":"#111"}},
"xOffset":{"field":"j","type":"quantitative","scale":{"domain":[-1.5,1.5],"nice":false,"zero":false}}}},
{"data":{"name":"ann"},"transform":[{"filter":"datum.p==3"}],
"mark":{"type":"text","align":"right","baseline":"middle","fontStyle":"italic","fontSize":12.5,"color":"#000"},
"encoding":{"x":{"datum":1,"type":"ordinal","axis":null},"xOffset":{"field":"j","type":"quantitative","scale":{"domain":[-1.5,1.5],"nice":false,"zero":false}},"text":{"field":"t1"}}},
{"data":{"name":"ann"},"transform":[{"filter":"datum.p==3"}],
"mark":{"type":"text","align":"left","baseline":"middle","fontSize":12.5,"color":"#000","dx":4},
"encoding":{"x":{"datum":1,"type":"ordinal","axis":null},"xOffset":{"field":"j","type":"quantitative","scale":{"domain":[-1.5,1.5],"nice":false,"zero":false}},"text":{"field":"t2"}}}
],
"resolve":{"axis":{"x":"independent"}}}
]
}
